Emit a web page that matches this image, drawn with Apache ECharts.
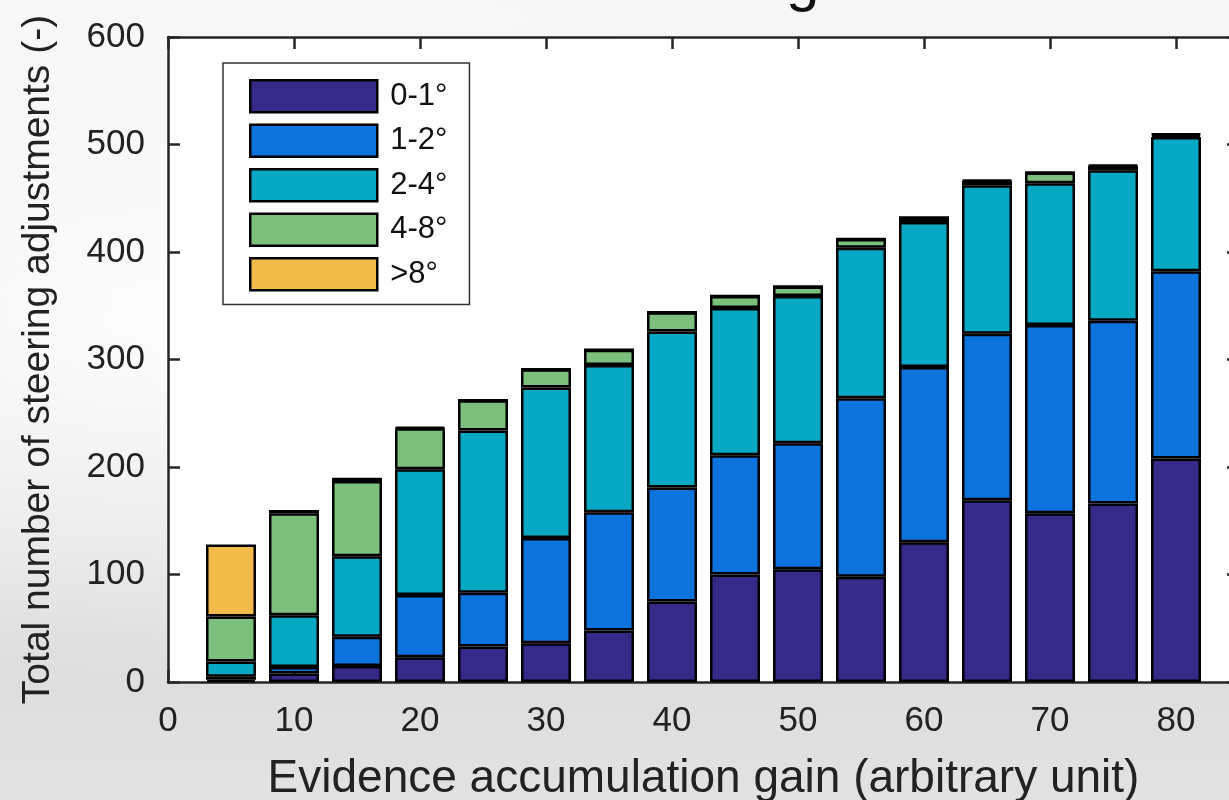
<!DOCTYPE html>
<html>
<head>
<meta charset="utf-8">
<script src="https://cdn.jsdelivr.net/npm/echarts@6/dist/echarts.min.js"></script>
<style>
html,body{margin:0;padding:0;}
body{width:1229px;height:800px;overflow:hidden;
background:
 radial-gradient(ellipse at 15% 40%, rgba(255,255,255,0.85), rgba(255,255,255,0) 55%),
 linear-gradient(180deg,#f7f7f7 0%,#ececec 45%,#dcdcdc 80%,#e2e2e2 100%);}
#c{width:1229px;height:800px;}
</style>
</head>
<body>
<div id="c"></div>
<script>
var gainSlots = [0, 5, 10, 15, 20, 25, 30, 35, 40, 45, 50, 55, 60, 65, 70, 75, 80, 85];
var seriesNames = ['0-1°', '1-2°', '2-4°', '4-8°', '>8°'];
// values for gains 5..80 (slots 0 and 85 are empty)
var deg0to1 = [2, 8, 15, 23, 33, 36, 48, 75, 100, 105, 98, 130, 169, 157, 166, 208];
var deg1to2 = [3, 6, 27, 58, 50, 98, 110, 106, 111, 117, 166, 163, 155, 175, 170, 174];
var deg2to4 = [14, 48, 75, 117, 151, 140, 137, 145, 137, 137, 140, 135, 138, 132, 140, 125];
var deg4to8 = [42, 95, 70, 38, 28, 17, 14, 18, 11, 9, 8, 4, 4, 10, 4, 2];
var deg8up  = [67, 3, 3, 1, 0, 0, 0, 0, 0, 0, 0, 0, 1, 0, 1, 1];
var xTicks = [0, 10, 20, 30, 40, 50, 60, 70, 80];
var yTicks = [0, 100, 200, 300, 400, 500, 600];
var colors = ['#352a87', '#0c74dc', '#07a8c3', '#7dbf7c', '#f1ba4a'];

var allSeries = [deg0to1, deg1to2, deg2to4, deg4to8, deg8up];
var chart = echarts.init(document.getElementById('c'), null, {renderer: 'canvas'});
var axisCol = '#262626';
var font = 'Liberation Sans, Arial, sans-serif';

function pad(arr) { return ['-'].concat(arr).concat(['-']); }

var option = {
  backgroundColor: 'transparent',
  animation: false,
  color: colors,
  graphic: [{
    type: 'text', left: 786, top: -47, z: 10,
    style: {text: 'g', font: '60px Liberation Sans', fill: '#111'}
  }],
  grid: {left: 168, top: 37, right: -10, bottom: 118, show: true, backgroundColor: '#ffffff', borderWidth: 0,
    containLabel: false, outerBoundsMode: 'none'},
  legend: {
    left: 223, top: 63, orient: 'vertical', icon: 'rect',
    backgroundColor: '#ffffff', borderColor: '#333', borderWidth: 1.5,
    padding: [16, 22, 13, 26], itemGap: 10, itemWidth: 127, itemHeight: 32,
    itemStyle: {borderColor: '#000', borderWidth: 2.5},
    textStyle: {fontFamily: font, fontSize: 31, lineHeight: 32, color: '#111', padding: [0, 0, 0, 8]},
    data: seriesNames
  },
  xAxis: [{
    type: 'category', data: gainSlots, boundaryGap: false, show: false
  }, {
    type: 'value', min: 0, max: 85, interval: 10, position: 'bottom',
    name: 'Evidence accumulation gain (arbitrary unit)', nameLocation: 'middle', nameGap: 74,
    nameTextStyle: {fontFamily: font, fontSize: 46, color: '#222'},
    axisLine: {show: true, onZero: false, lineStyle: {color: axisCol, width: 2.5}},
    axisTick: {show: true, inside: true, length: 12, lineStyle: {color: axisCol, width: 2.5}},
    axisLabel: {fontFamily: font, fontSize: 35, color: '#222', margin: 22,
      formatter: function (v) { return xTicks.indexOf(v) >= 0 ? String(v) : ''; }},
    splitLine: {show: false}
  }, {
    type: 'value', min: 0, max: 85, interval: 10, position: 'top',
    axisLine: {show: true, onZero: false, lineStyle: {color: axisCol, width: 2.5}},
    axisTick: {show: true, inside: true, length: 12, lineStyle: {color: axisCol, width: 2.5}},
    axisLabel: {show: false}, splitLine: {show: false}
  }],
  yAxis: [{
    type: 'value', min: 0, max: 600, interval: 100, position: 'left',
    name: 'Total number of steering adjustments (-)', nameLocation: 'middle', nameGap: 110,
    nameTextStyle: {fontFamily: font, fontSize: 39, color: '#222'},
    axisLine: {show: true, onZero: false, lineStyle: {color: axisCol, width: 2.5}},
    axisTick: {show: true, inside: true, length: 12, lineStyle: {color: axisCol, width: 2.5}},
    axisLabel: {fontFamily: font, fontSize: 35, color: '#222', margin: 23,
      formatter: function (v) { return yTicks.indexOf(v) >= 0 ? String(v) : ''; }},
    splitLine: {show: false}
  }, {
    type: 'value', min: 0, max: 600, interval: 100, position: 'right',
    axisLine: {show: true, onZero: false, lineStyle: {color: axisCol, width: 2.5}},
    axisTick: {show: true, inside: true, length: 12, lineStyle: {color: axisCol, width: 2.5}},
    axisLabel: {show: false}, splitLine: {show: false}
  }],
  series: seriesNames.map(function (name, i) {
    return {
      name: name, type: 'bar', stack: 'total', barWidth: 50,
      xAxisIndex: 0, yAxisIndex: 0,
      itemStyle: {color: colors[i], borderColor: '#000', borderWidth: 2.5},
      data: pad(allSeries[i])
    };
  })
};
chart.setOption(option);
</script>
</body>
</html>
